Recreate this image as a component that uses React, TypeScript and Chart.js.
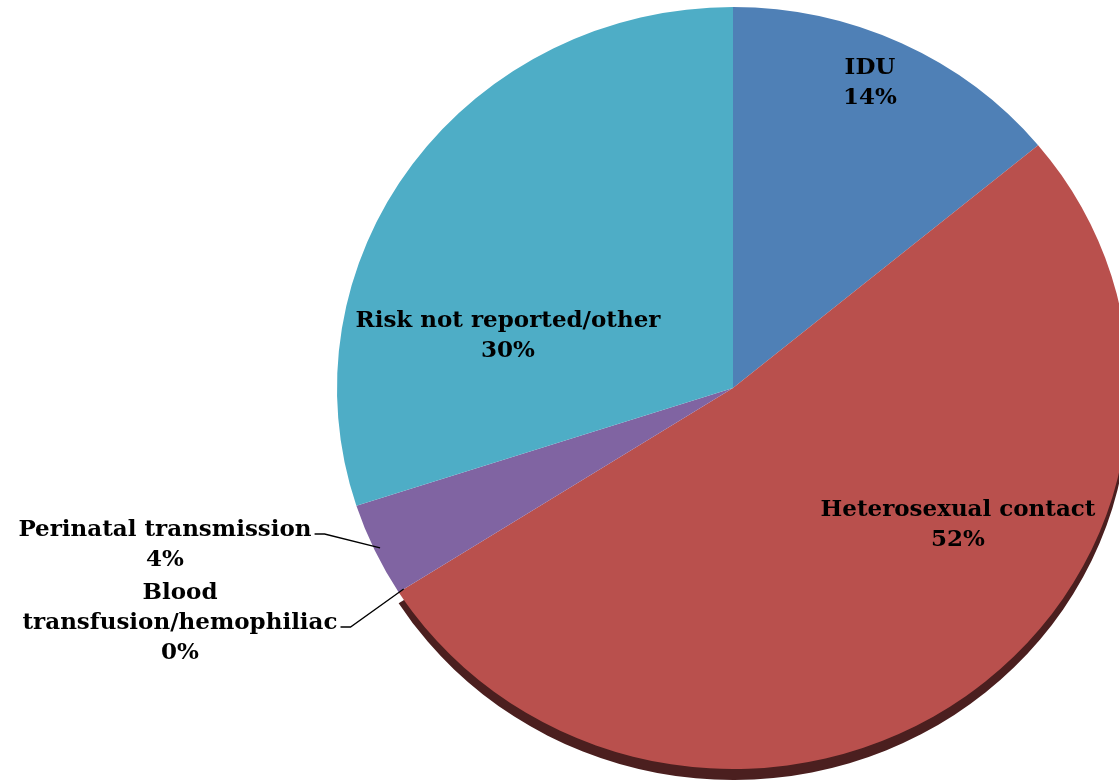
import React, { useEffect, useRef } from "react";
import { Chart, registerables } from "chart.js";

Chart.register(...registerables);

// ---- data ----
const categories = [
  "IDU",
  "Heterosexual contact",
  "Blood transfusion/hemophiliac",
  "Perinatal transmission",
  "Risk not reported/other",
];
const values = [14, 52, 0, 4, 30];
const colors = ["#4F80B6", "#B9504D", "#9BBB59", "#8064A2", "#4EADC6"];
const labelLines = [
  ["IDU"],
  ["Heterosexual contact"],
  ["Blood", "transfusion/hemophiliac"],
  ["Perinatal transmission"],
  ["Risk not reported/other"],
];

// ---- layout ----
const CANVAS_W = 1140;
const CANVAS_H = 810;
const TOP_SHIFT = -10; // canvas top offset on page
const RX = 396;
const RY = 381;
const SY = RY / RX;
const LINE_H = 30;
const FONT = 'bold 23px "DejaVu Serif"';
// label anchor (center x, first line y) in page coordinates
const labelAnchors = [
  [870, 68],
  [958, 510],
  [180, 593],
  [165, 530],
  [508, 321],
];
const hasLeader = [false, false, true, true, false];

const ellipsePlugin = {
  id: "ellipse",
  beforeDatasetsDraw(chart: any) {
    const meta = chart.getDatasetMeta(0);
    const a0 = meta.data[0];
    const cx = a0.x;
    const cy = a0.y;
    const ctx = chart.ctx;
    ctx.save();
    ctx.translate(cx, cy);
    ctx.scale(1, SY);
    ctx.translate(-cx, -cy);
    // 3D side of the large bottom slice
    const red = meta.data[1];
    ctx.save();
    ctx.translate(0, 11 / SY);
    ctx.beginPath();
    ctx.moveTo(cx, cy);
    ctx.arc(cx, cy, red.outerRadius, red.startAngle, red.endAngle);
    ctx.closePath();
    ctx.fillStyle = "#4B1F1F";
    ctx.fill();
    ctx.restore();
  },
  afterDatasetsDraw(chart: any) {
    chart.ctx.restore();
  },
};

const labelPlugin = {
  id: "pieLabels",
  afterDraw(chart: any) {
    const ctx = chart.ctx;
    const meta = chart.getDatasetMeta(0);
    const total = values.reduce((s, v) => s + v, 0);
    ctx.save();
    ctx.font = FONT;
    ctx.fillStyle = "#000";
    ctx.textAlign = "center";
    ctx.textBaseline = "middle";
    values.forEach((v, i) => {
      const [ax, ayPage] = labelAnchors[i];
      const ay = ayPage - TOP_SHIFT;
      const lines = [...labelLines[i], Math.round((v / total) * 100) + "%"];
      lines.forEach((t, k) => ctx.fillText(t, ax, ay + k * LINE_H));
      if (hasLeader[i]) {
        const arc = meta.data[i];
        const mid = (arc.startAngle + arc.endAngle) / 2;
        const r = arc.outerRadius * 0.985;
        const ex = arc.x + r * Math.cos(mid);
        const ey = arc.y + r * SY * Math.sin(mid);
        const k = labelLines[i].length - 1;
        const w = ctx.measureText(labelLines[i][k]).width;
        const y = ay + k * LINE_H + 4;
        const sx = ax + w / 2 + 3;
        ctx.beginPath();
        ctx.moveTo(sx, y);
        ctx.lineTo(sx + 10, y);
        ctx.lineTo(ex, ey);
        ctx.strokeStyle = "#000";
        ctx.lineWidth = 1.3;
        ctx.stroke();
      }
    });
    ctx.restore();
  },
};

export default function App() {
  const ref = useRef<HTMLCanvasElement | null>(null);
  useEffect(() => {
    if (!ref.current) return;
    const cxPage = 733;
    const cyPage = 388;
    const cyCanvas = cyPage - TOP_SHIFT;
    const chart = new Chart(ref.current, {
      type: "pie",
      data: {
        labels: categories,
        datasets: [
          {
            data: values,
            backgroundColor: colors,
            borderWidth: 0,
            clip: false as any,
          } as any,
        ],
      },
      options: {
        responsive: false,
        animation: false,
        layout: {
          padding: {
            left: cxPage - RX,
            right: CANVAS_W - (cxPage + RX),
            top: cyCanvas - RX,
            bottom: CANVAS_H - (cyCanvas + RX),
          },
        },
        plugins: {
          legend: { display: false },
          tooltip: { enabled: false },
        },
      } as any,
      plugins: [ellipsePlugin, labelPlugin],
    });
    return () => chart.destroy();
  }, []);
  return (
    <div
      style={{
        position: "fixed",
        left: 0,
        top: 0,
        width: "100vw",
        height: "100vh",
        overflow: "hidden",
        background: "#fff",
      }}
    >
      <canvas
        ref={ref}
        width={CANVAS_W}
        height={CANVAS_H}
        style={{ position: "absolute", left: 0, top: TOP_SHIFT, width: CANVAS_W, height: CANVAS_H }}
      />
    </div>
  );
}
